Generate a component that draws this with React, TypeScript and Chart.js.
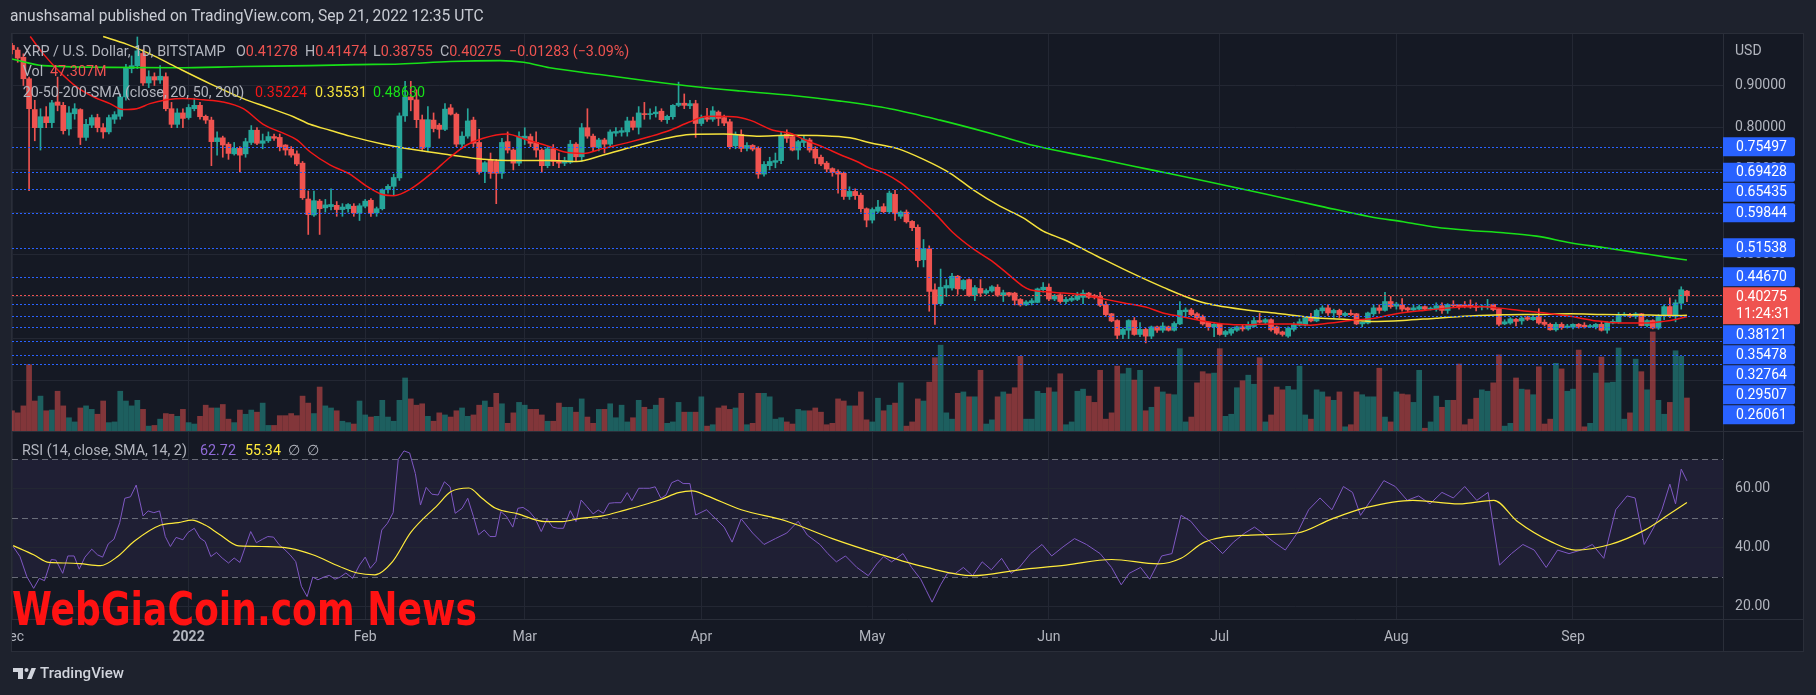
import React, { useEffect, useRef } from "react";
import { Chart, registerables } from "chart.js";

Chart.register(...registerables);

const W = 1816;
const H = 695;
const FONT = 'Roboto, "Noto Sans", "DejaVu Sans", sans-serif';

// ---------------- data (day index 0 = 1 Dec 2021, 294 = 21 Sep 2022) ----------------
// [open, high, low, close]
const candles: [number, number, number, number][] = [
  [0.995,1.000,0.975,0.985],[0.984,0.990,0.955,0.965],[0.967,0.975,0.900,0.916],[0.916,0.920,0.651,0.845],[0.843,0.865,0.769,0.800],
  [0.800,0.845,0.747,0.826],[0.826,0.850,0.800,0.812],[0.812,0.865,0.800,0.859],[0.861,0.920,0.840,0.853],[0.853,0.860,0.785,0.793],
  [0.797,0.850,0.782,0.835],[0.833,0.857,0.820,0.845],[0.843,0.845,0.760,0.777],[0.777,0.820,0.770,0.808],[0.806,0.830,0.800,0.824],
  [0.824,0.832,0.790,0.800],[0.800,0.810,0.775,0.790],[0.790,0.830,0.785,0.824],[0.820,0.838,0.810,0.831],[0.827,0.880,0.820,0.873],
  [0.873,0.950,0.865,0.942],[0.940,0.970,0.930,0.947],[0.947,1.015,0.940,0.982],[0.976,0.985,0.900,0.906],[0.906,0.935,0.895,0.921],
  [0.921,0.930,0.900,0.913],[0.913,0.947,0.905,0.922],[0.921,0.930,0.840,0.845],[0.845,0.860,0.800,0.808],[0.808,0.845,0.800,0.835],
  [0.835,0.845,0.800,0.822],[0.824,0.855,0.820,0.848],[0.845,0.870,0.840,0.853],[0.853,0.860,0.820,0.826],[0.827,0.830,0.810,0.818],
  [0.818,0.825,0.710,0.767],[0.767,0.790,0.735,0.776],[0.776,0.780,0.730,0.759],[0.761,0.765,0.725,0.739],[0.738,0.765,0.735,0.751],
  [0.751,0.755,0.695,0.735],[0.738,0.775,0.730,0.767],[0.765,0.805,0.760,0.794],[0.794,0.800,0.760,0.763],[0.763,0.785,0.750,0.769],
  [0.769,0.790,0.765,0.779],[0.779,0.785,0.770,0.775],[0.777,0.785,0.745,0.755],[0.759,0.760,0.735,0.747],[0.749,0.755,0.730,0.735],
  [0.738,0.745,0.710,0.714],[0.716,0.720,0.630,0.634],[0.631,0.650,0.547,0.594],[0.593,0.650,0.590,0.627],[0.626,0.630,0.547,0.608],
  [0.610,0.630,0.600,0.617],[0.613,0.655,0.605,0.618],[0.616,0.625,0.590,0.606],[0.606,0.620,0.590,0.612],[0.608,0.620,0.600,0.618],
  [0.614,0.620,0.590,0.598],[0.598,0.620,0.580,0.615],[0.614,0.630,0.610,0.626],[0.628,0.632,0.590,0.598],[0.598,0.612,0.590,0.608],
  [0.608,0.655,0.605,0.653],[0.653,0.665,0.645,0.661],[0.661,0.690,0.640,0.682],[0.681,0.835,0.675,0.828],[0.828,0.910,0.815,0.873],
  [0.873,0.910,0.840,0.866],[0.866,0.890,0.800,0.819],[0.819,0.830,0.745,0.751],[0.754,0.850,0.745,0.819],[0.818,0.835,0.790,0.798],
  [0.806,0.810,0.775,0.796],[0.796,0.857,0.793,0.844],[0.847,0.855,0.830,0.832],[0.832,0.835,0.755,0.761],[0.761,0.790,0.755,0.780],
  [0.780,0.845,0.775,0.816],[0.818,0.825,0.755,0.763],[0.765,0.796,0.690,0.696],[0.696,0.720,0.670,0.717],[0.724,0.740,0.680,0.692],
  [0.720,0.725,0.620,0.692],[0.692,0.775,0.680,0.765],[0.767,0.790,0.740,0.747],[0.747,0.750,0.700,0.716],[0.716,0.790,0.710,0.779],
  [0.775,0.800,0.760,0.780],[0.779,0.785,0.755,0.763],[0.765,0.790,0.730,0.747],[0.747,0.750,0.695,0.710],[0.710,0.755,0.705,0.750],
  [0.750,0.760,0.710,0.720],[0.722,0.740,0.705,0.716],[0.716,0.730,0.710,0.722],[0.718,0.770,0.715,0.761],[0.761,0.765,0.720,0.731],
  [0.731,0.810,0.720,0.800],[0.800,0.845,0.775,0.780],[0.780,0.785,0.745,0.754],[0.754,0.775,0.745,0.771],[0.771,0.775,0.740,0.761],
  [0.761,0.795,0.755,0.790],[0.787,0.800,0.780,0.791],[0.789,0.800,0.780,0.793],[0.790,0.825,0.780,0.816],[0.816,0.825,0.795,0.801],
  [0.801,0.850,0.785,0.835],[0.833,0.860,0.820,0.831],[0.831,0.845,0.820,0.833],[0.833,0.850,0.825,0.837],[0.839,0.845,0.815,0.819],
  [0.819,0.830,0.810,0.827],[0.826,0.855,0.820,0.853],[0.853,0.908,0.850,0.858],[0.858,0.880,0.845,0.853],[0.852,0.865,0.845,0.857],
  [0.857,0.865,0.777,0.810],[0.810,0.830,0.805,0.823],[0.824,0.846,0.815,0.820],[0.820,0.850,0.815,0.840],[0.837,0.840,0.805,0.822],
  [0.824,0.830,0.805,0.811],[0.814,0.820,0.750,0.755],[0.757,0.790,0.750,0.784],[0.784,0.795,0.743,0.751],[0.751,0.765,0.745,0.758],
  [0.758,0.760,0.745,0.749],[0.751,0.755,0.680,0.690],[0.690,0.720,0.685,0.713],[0.710,0.730,0.700,0.720],[0.718,0.740,0.705,0.722],
  [0.722,0.790,0.715,0.781],[0.785,0.795,0.765,0.775],[0.779,0.785,0.745,0.747],[0.747,0.770,0.725,0.767],[0.765,0.780,0.755,0.773],
  [0.771,0.775,0.742,0.747],[0.749,0.755,0.715,0.728],[0.730,0.735,0.710,0.714],[0.716,0.720,0.695,0.702],[0.703,0.705,0.685,0.694],
  [0.696,0.700,0.645,0.690],[0.692,0.695,0.630,0.637],[0.637,0.660,0.630,0.649],[0.649,0.655,0.630,0.639],[0.640,0.645,0.600,0.608],
  [0.608,0.610,0.565,0.581],[0.581,0.610,0.574,0.606],[0.602,0.628,0.598,0.612],[0.613,0.620,0.598,0.601],[0.601,0.650,0.597,0.645],
  [0.642,0.652,0.580,0.596],[0.590,0.603,0.585,0.600],[0.600,0.605,0.574,0.577],[0.578,0.580,0.556,0.563],[0.564,0.570,0.470,0.485],
  [0.487,0.535,0.470,0.513],[0.513,0.520,0.365,0.412],[0.416,0.430,0.334,0.383],[0.383,0.465,0.378,0.422],[0.420,0.440,0.400,0.426],
  [0.420,0.455,0.415,0.448],[0.448,0.450,0.405,0.418],[0.418,0.440,0.415,0.438],[0.440,0.442,0.400,0.402],[0.404,0.426,0.390,0.421],
  [0.419,0.440,0.400,0.408],[0.408,0.418,0.405,0.414],[0.413,0.426,0.410,0.423],[0.422,0.428,0.400,0.403],[0.403,0.415,0.388,0.409],
  [0.409,0.410,0.400,0.403],[0.408,0.410,0.380,0.391],[0.393,0.395,0.377,0.380],[0.380,0.390,0.378,0.387],[0.385,0.395,0.380,0.390],
  [0.386,0.420,0.385,0.418],[0.416,0.433,0.410,0.422],[0.422,0.430,0.390,0.394],[0.394,0.405,0.390,0.402],[0.404,0.408,0.384,0.388],
  [0.388,0.398,0.383,0.393],[0.391,0.400,0.388,0.396],[0.393,0.410,0.390,0.402],[0.398,0.415,0.383,0.408],[0.408,0.410,0.395,0.398],
  [0.402,0.405,0.394,0.398],[0.400,0.410,0.376,0.379],[0.381,0.388,0.353,0.357],[0.359,0.360,0.340,0.342],[0.343,0.345,0.300,0.308],
  [0.310,0.325,0.300,0.322],[0.320,0.345,0.300,0.343],[0.343,0.350,0.308,0.310],[0.310,0.338,0.305,0.322],[0.322,0.325,0.290,0.306],
  [0.306,0.330,0.300,0.328],[0.328,0.330,0.315,0.320],[0.320,0.338,0.315,0.330],[0.328,0.330,0.318,0.320],[0.320,0.340,0.318,0.336],
  [0.335,0.388,0.333,0.367],[0.364,0.373,0.352,0.368],[0.368,0.372,0.354,0.357],[0.359,0.362,0.345,0.349],[0.353,0.356,0.332,0.335],
  [0.339,0.340,0.320,0.328],[0.328,0.336,0.305,0.334],[0.334,0.336,0.308,0.310],[0.310,0.320,0.305,0.317],[0.313,0.326,0.308,0.323],
  [0.320,0.330,0.317,0.328],[0.328,0.334,0.318,0.323],[0.323,0.340,0.320,0.333],[0.329,0.350,0.327,0.343],[0.343,0.360,0.337,0.339],
  [0.339,0.348,0.335,0.345],[0.345,0.347,0.318,0.321],[0.328,0.330,0.310,0.313],[0.316,0.318,0.306,0.310],[0.306,0.328,0.303,0.325],
  [0.322,0.338,0.318,0.333],[0.332,0.347,0.330,0.340],[0.332,0.352,0.330,0.349],[0.349,0.360,0.340,0.342],[0.342,0.370,0.340,0.367],
  [0.366,0.378,0.360,0.373],[0.373,0.380,0.355,0.361],[0.361,0.370,0.350,0.367],[0.367,0.370,0.350,0.357],[0.355,0.363,0.352,0.360],
  [0.360,0.368,0.355,0.357],[0.359,0.360,0.333,0.335],[0.335,0.340,0.328,0.339],[0.337,0.363,0.335,0.361],[0.359,0.380,0.355,0.373],
  [0.373,0.380,0.360,0.367],[0.367,0.410,0.365,0.388],[0.388,0.400,0.372,0.376],[0.377,0.386,0.370,0.382],[0.380,0.395,0.365,0.370],
  [0.373,0.375,0.364,0.368],[0.368,0.380,0.365,0.373],[0.370,0.380,0.367,0.376],[0.376,0.378,0.368,0.370],[0.370,0.375,0.368,0.372],
  [0.370,0.385,0.365,0.378],[0.378,0.385,0.360,0.367],[0.367,0.383,0.360,0.381],[0.380,0.390,0.375,0.378],[0.380,0.380,0.370,0.376],
  [0.380,0.388,0.373,0.376],[0.379,0.392,0.372,0.375],[0.377,0.385,0.366,0.374],[0.375,0.380,0.368,0.377],[0.375,0.393,0.370,0.377],
  [0.381,0.382,0.366,0.369],[0.371,0.372,0.330,0.334],[0.335,0.345,0.333,0.340],[0.337,0.350,0.334,0.347],[0.346,0.348,0.330,0.341],
  [0.342,0.352,0.334,0.349],[0.350,0.353,0.343,0.346],[0.345,0.355,0.343,0.351],[0.351,0.371,0.334,0.337],[0.339,0.345,0.330,0.334],
  [0.334,0.337,0.320,0.321],[0.321,0.338,0.318,0.334],[0.334,0.338,0.322,0.326],[0.327,0.334,0.325,0.330],[0.327,0.335,0.323,0.334],
  [0.334,0.336,0.325,0.329],[0.332,0.338,0.325,0.328],[0.328,0.334,0.326,0.331],[0.328,0.336,0.323,0.334],[0.334,0.341,0.318,0.320],
  [0.320,0.340,0.313,0.338],[0.337,0.345,0.335,0.341],[0.339,0.362,0.336,0.357],[0.355,0.362,0.353,0.358],[0.357,0.360,0.350,0.353],
  [0.353,0.362,0.348,0.359],[0.359,0.360,0.330,0.331],[0.331,0.345,0.328,0.343],[0.343,0.345,0.323,0.325],[0.325,0.357,0.322,0.355],
  [0.355,0.380,0.345,0.376],[0.376,0.397,0.350,0.355],[0.354,0.392,0.340,0.385],[0.384,0.423,0.370,0.416],[0.41278,0.41474,0.38755,0.40275],
];

// volume, millions
const volumesM: number[] = [
  29,26,36,95,43,50,29,30,57,36, 19,13,33,36,31,24,43,12,13,57, 43,36,44,31,7,8,17,25,24,21,
  31,12,10,21,37,33,33,38,17,12, 30,24,30,27,40,8,8,22,22,25, 22,50,40,25,63,36,33,29,14,12,
  10,43,23,20,21,44,20,14,44,76, 46,37,39,21,14,26,23,20,29,33, 21,23,37,43,34,54,39,11,26,41,
  37,31,31,23,14,14,40,34,34,27, 46,20,11,31,31,39,19,37,13,19, 44,34,31,37,47,11,13,41,27,27,
  27,49,7,9,33,36,31,33,54,9, 11,54,54,49,17,19,13,10,31,29, 29,33,27,9,11,46,43,36,36,56,
  16,13,47,29,37,40,69,7,13,46, 43,70,105,123,26,17,54,56,49,49, 87,10,16,49,56,53,62,107,17,17,
  57,54,62,56,82,9,13,57,60,50, 41,87,17,26,93,82,90,73,87,29, 34,63,56,53,52,118,13,20,69,85,
  82,83,118,21,24,62,72,80,67,105, 13,23,63,59,64,59,93,23,17,59, 56,49,44,56,6,9,56,52,49,49,
  90,20,13,56,53,52,41,87,4,13, 50,34,44,44,96,9,17,47,59,57, 69,109,7,11,76,60,59,52,92,10,
  17,97,89,57,60,116,6,11,83,106, 69,70,119,17,26,103,85,59,142,44, 24,41,115,107,47.3,
];

// moving averages: [day index, price]
const sma20: [number, number][] = [
  [3.2,1.016],[5.5,0.975],[8.4,0.932],[11.4,0.896],[14.3,0.873],[17.2,0.857],[19.5,0.843],[21.9,0.845],[24.2,0.857],[27.2,0.866],
  [30,0.869],[33.6,0.866],[37,0.861],[40.6,0.845],[44.1,0.808],[47.6,0.787],[50,0.771],[52.3,0.743],[55.8,0.712],[59.3,0.69],
  [62.3,0.661],[65.2,0.641],[67,0.639],[70,0.655],[74,0.696],[76.9,0.73],[79.8,0.759],[82.7,0.775],[86.8,0.785],[90.4,0.771],
  [94.4,0.755],[96.8,0.743],[100.3,0.739],[103.8,0.751],[107.9,0.764],[112,0.779],[115.5,0.794],[119,0.814],[122,0.827],[126.6,0.826],
  [129.5,0.818],[133.6,0.794],[136.6,0.787],[139.5,0.769],[142.4,0.754],[145.4,0.736],[148.3,0.72],[150.3,0.706],[153,0.693],[156,0.669],
  [160,0.622],[162.4,0.591],[165.2,0.551],[168.8,0.512],[172.3,0.481],[175.2,0.449],[177.5,0.424],[178.7,0.416],[181.6,0.411],[184.6,0.408],
  [188,0.404],[191,0.396],[195,0.385],[199,0.375],[202,0.361],[205,0.353],[209,0.342],[212.7,0.335],[216.7,0.333],[220.8,0.335],
  [224.9,0.335],[227.9,0.332],[231.4,0.337],[234.9,0.343],[238.4,0.347],[243,0.359],[247.8,0.367],[252.4,0.373],[257.1,0.376],[260.6,0.373],
  [264.7,0.367],[269.4,0.3605],[273.5,0.353],[278.2,0.342],[282.3,0.337],[286.4,0.337],[289.9,0.341],[292.2,0.346],[294,0.3522],
];
const sma50: [number, number][] = [
  [16,1.016],[20.1,0.998],[24.2,0.975],[28.9,0.943],[34.8,0.904],[40.6,0.869],[44.7,0.849],[49.4,0.826],[52.3,0.808],[55.8,0.794],
  [59.3,0.78],[65.2,0.761],[71,0.747],[76.9,0.7355],[82.7,0.725],[88.6,0.722],[94.4,0.722],[99.1,0.72],[103.8,0.7355],[109,0.755],
  [114.9,0.775],[119,0.784],[124.9,0.785],[130.7,0.78],[136.6,0.782],[142.4,0.781],[147.1,0.776],[150.6,0.7645],[155.3,0.751],[160,0.725],
  [164.7,0.692],[168.8,0.652],[173.4,0.614],[177.5,0.5865],[181,0.555],[184.6,0.535],[190.4,0.496],[196.3,0.457],[202.1,0.4216],[208,0.39],
  [211.5,0.3785],[216.7,0.368],[222.6,0.359],[228.5,0.3495],[234.3,0.3456],[238.4,0.341],[244.2,0.3433],[250,0.3487],[255.9,0.3535],[261.8,0.3566],
  [267.6,0.3574],[273.5,0.359],[279.3,0.3574],[285.2,0.3566],[291,0.355],[294,0.3553],
];
const sma200: [number, number][] = [
  [0,0.963],[5.5,0.947],[17.2,0.943],[28.9,0.942],[40.6,0.945],[52.3,0.947],[60.2,0.9495],[68.1,0.951],[76.9,0.957],[85.7,0.959],
  [89.8,0.955],[94.4,0.942],[103.2,0.926],[112,0.91],[120,0.897],[127.8,0.887],[136.6,0.877],[145.4,0.863],[154.1,0.845],[162.9,0.818],
  [171.7,0.787],[179.6,0.757],[190,0.728],[200,0.7],[210,0.672],[220,0.643],[230,0.613],[238.4,0.589],[244.2,0.577],[250,0.564],
  [255.9,0.5565],[261.8,0.551],[267.6,0.543],[273.5,0.5275],[279.3,0.516],[285.2,0.504],[291,0.492],[294,0.4863],
];

// RSI(14) and its SMA(14): [day index, value]
const rsi14: [number, number][] = [
  [0.2,40.4],[1.4,37],[2.6,30.2],[3.8,26.2],[4.8,29.6],[5.7,28.8],[6.9,36],[7.7,35.8],[8.9,31.3],[9.8,37.2],[10.9,37.2],[11.8,32.7],
  [12.8,36.8],[14,39.5],[15,37.6],[15.9,36.8],[16.9,41.3],[17.9,42.9],[18.9,48.5],[19.8,56.8],[20.8,57.3],[21.8,61.3],[23,50.8],[23.9,52.5],
  [24.9,51.9],[25.9,52.5],[26.9,43.8],[27.8,40.4],[28.8,43.5],[30,42.7],[30.9,45.2],[32,46.6],[33,43.3],[33.9,42.1],[34.9,37],[35.9,38.4],
  [36.9,36.5],[38,34.8],[39,36.5],[40,35],[41,40.6],[41.9,45.5],[42.9,41.7],[44,42.9],[44.9,43.8],[45.9,43.6],[46.9,41],[47.9,39.3],
  [48.8,37.6],[49.8,35.3],[50.8,26.9],[51.8,23.4],[52.8,30],[53.7,29.1],[54.7,30],[55.7,30.6],[56.7,29.3],[57.6,30],[58.6,31.4],[59.8,29.6],
  [61,34.1],[62,36.8],[62.9,33],[63.9,35.3],[64.9,46],[65.9,48.3],[66.9,51.9],[67.8,70],[68.8,72.9],[69.8,72.2],[70.8,65.2],[71.7,54.5],
  [72.7,60.5],[73.7,58.2],[74.8,57.9],[75.9,62.4],[76.9,60.7],[77.8,51.7],[79,53.4],[80,56.8],[81,50.6],[81.9,44.4],[82.9,46],[83.9,43.8],
  [84.9,43.8],[85.8,52.3],[86.8,50.6],[87.9,47],[88.8,53.4],[89.7,53.7],[90.8,52.3],[91.8,50],[92.9,45.5],[93.9,49.7],[94.9,47],[95.8,46.6],
  [96.8,46.6],[98,52.6],[99,48.9],[99.9,56.2],[100.9,54],[102,51.5],[102.9,52.8],[103.8,51.7],[104.8,55.1],[105.8,55.3],[106.9,55.3],[108,58.7],
  [108.8,56],[110,60.2],[110.9,60.2],[111.9,60.2],[112.9,60.7],[113.9,56.8],[114.8,57.9],[115.8,62.1],[116.9,63],[117.8,61.8],[119,61.8],[120,51.1],
  [121.9,52.9],[125,47],[126.4,41.9],[128,49.8],[130,45],[132,41.1],[134,43.1],[136,45],[138,49],[139.6,44.3],[141.8,41.1],[143.2,38],
  [144.7,35.2],[146.3,37.2],[148.3,33.3],[150.3,30.5],[151.8,34.5],[153,37],[154.4,35.2],[156.4,38],[157.9,33.3],[159.5,29.3],[160.5,25.4],[161.5,21.5],
  [163,27.4],[164.2,31.3],[165.6,31.3],[167,33.3],[168.6,30.5],[170.3,35.2],[171.9,32.5],[173.7,36.4],[175.4,31.3],[176.8,33.3],[178.8,38],[180.8,41.1],
  [182.5,37.2],[184.5,40.3],[186.5,43.1],[188.6,41.1],[191,38],[193,33.3],[194.7,27.4],[196.1,31.3],[198.1,33.3],[199.7,29.3],[201.8,37.2],[203.6,38],
  [205.2,51],[206.9,49],[208.9,44.3],[210.9,41.1],[212.5,38],[214.4,41.9],[216.4,45],[218.1,47],[219.5,45],[221.5,41.9],[223.5,39.2],[225.6,45],
  [227.6,52.9],[229.6,56.9],[231.7,52.9],[233.7,60.8],[235.3,58.8],[236.7,51],[238.8,56.9],[240.8,62.8],[242.8,60.8],[244.9,56.1],[246.9,57.6],[248.9,54.9],
  [251,58.8],[253,56.9],[255,60.8],[257.1,56.1],[259.1,58.8],[261.1,34.1],[263.2,38],[265.2,41.1],[267.2,39.2],[269.3,33.3],[271.3,39.2],[273.3,38],
  [275.4,39.2],[277.4,41.1],[279.4,36.4],[281.5,52.9],[283.5,57.6],[284.9,56.9],[286.5,41.1],[288.2,47],[289.6,52.9],[291,61.6],[292,54.9],[293,66.7],[294,62.72],
];
const rsiSma: [number, number][] = [
  [0.2,40.7],[3.8,37.6],[6.5,35],[9.6,34.8],[11.9,34.6],[15.5,33.9],[18.6,37.1],[21.4,42.1],[26.1,47.7],[29.2,48.5],[31.6,49.4],[33.9,47.7],
  [36.3,44.7],[39.8,40.6],[44.9,40.4],[48.8,39.8],[52.8,37.6],[57.5,33.6],[60.6,31.4],[63.7,30.8],[66.8,35.3],[70,45.2],[74.7,54.5],[77,59],
  [80.2,60.3],[82.5,56.8],[84.9,53.4],[88.8,51.5],[93.5,48.9],[96.6,48.9],[99.8,50],[103.7,50.8],[107.6,52.8],[110.8,54.5],[113.9,56.4],[117,58.7],
  [119.4,59.3],[122,57.6],[128,52.9],[136,49],[144,43.1],[152,38],[160.5,33.3],[168.6,30.5],[176.8,32.5],[185,34.1],[193,36],[201.2,34.5],
  [205.2,36.4],[209.3,41.9],[217.4,44.3],[225.6,45],[231.7,49.8],[237.8,53.7],[245.9,56.1],[254,54.9],[260.1,56.1],[264.2,49],[270.3,41.9],[274.4,39.2],
  [280.5,41.1],[286.5,45.9],[290.6,51],[294,55.34],
];

const monthTickIdx = [0, 31, 62, 90, 121, 151, 182, 212, 243, 274];
const monthTickLabels = ["Dec", "2022", "Feb", "Mar", "Apr", "May", "Jun", "Jul", "Aug", "Sep"];
const priceTicks = [0.2, 0.3, 0.4, 0.5, 0.6, 0.7, 0.8, 0.9];
const rsiTicks = [20, 40, 60];
const rsiLevels = [70, 50, 30];
// user-drawn horizontal levels (the last one has no visible price label)
const priceLevels = [0.75497, 0.69428, 0.65435, 0.59844, 0.51538, 0.4467, 0.38121, 0.35478, 0.32764, 0.29507, 0.26061, 0.239];
const labelledLevels = [0.75497, 0.69428, 0.65435, 0.59844, 0.51538, 0.4467, 0.38121, 0.35478, 0.32764, 0.29507, 0.26061];
const lastClose = 0.40275;
const countdown = "11:24:31";

// ---------------- styling ----------------
const OUTER_BG = "#1e222d";
const PANE_BG = "#151924";
const GRID = "#232733";
const BORDER = "#2a2e39";
const TEXT = "#b2b5be";
const UP = "#26a69a";
const DOWN = "#ef5350";
const UP_VOL = "rgba(38,166,154,0.5)";
const DOWN_VOL = "rgba(239,83,80,0.5)";
const BLUE = "#2962ff";
const SMA20_C = "#f21818";
const SMA50_C = "#f5e23c";
const SMA200_C = "#18e018";
const RSI_C = "#7e57c2";
const RSI_SMA_C = "#ffeb3b";

const FR = { left: 11, top: 33, right: 1804, bottom: 652 };
const AXIS_W = 81;

function fitSize(ctx: CanvasRenderingContext2D, text: string, weight: string, family: string, target: number) {
  ctx.font = `${weight} 20px ${family}`;
  return (20 * target) / ctx.measureText(text).width;
}

function seg(ctx: CanvasRenderingContext2D, s: string, x: number, y: number, color: string) {
  ctx.fillStyle = color;
  ctx.fillText(s, x, y);
  return x + ctx.measureText(s).width;
}

const decor = {
  id: "decor",
  beforeDraw(chart: any) {
    const { ctx, chartArea: ca } = chart;
    ctx.save();
    ctx.fillStyle = OUTER_BG;
    ctx.fillRect(0, 0, W, H);
    ctx.fillStyle = PANE_BG;
    ctx.fillRect(FR.left, FR.top, FR.right - FR.left, FR.bottom - FR.top);
    const yR = chart.scales.yRsi;
    const t = yR.getPixelForValue(70);
    const b = yR.getPixelForValue(30);
    ctx.fillStyle = "rgba(126,87,194,0.1)";
    ctx.fillRect(ca.left, t, ca.right - ca.left, b - t);
    ctx.restore();
  },
  beforeDatasetsDraw(chart: any) {
    const { ctx, chartArea: ca } = chart;
    const yR = chart.scales.yRsi;
    ctx.save();
    ctx.strokeStyle = "rgba(120,123,134,0.85)";
    ctx.lineWidth = 1;
    ctx.setLineDash([6, 4]);
    for (const v of rsiLevels) {
      const y = Math.round(yR.getPixelForValue(v)) + 0.5;
      ctx.beginPath();
      ctx.moveTo(ca.left, y);
      ctx.lineTo(ca.right, y);
      ctx.stroke();
    }
    ctx.restore();
  },
  afterDatasetsDraw(chart: any) {
    const { ctx, chartArea: ca } = chart;
    const yS = chart.scales.y;
    ctx.save();
    ctx.lineWidth = 1;
    ctx.setLineDash([2, 2]);
    ctx.strokeStyle = BLUE;
    for (const p of priceLevels) {
      const y = Math.round(yS.getPixelForValue(p)) + 0.5;
      ctx.beginPath();
      ctx.moveTo(ca.left, y);
      ctx.lineTo(ca.right, y);
      ctx.stroke();
    }
    ctx.strokeStyle = DOWN;
    const yl = Math.round(yS.getPixelForValue(lastClose)) + 0.5;
    ctx.beginPath();
    ctx.moveTo(ca.left, yl);
    ctx.lineTo(ca.right, yl);
    ctx.stroke();
    ctx.restore();
  },
  afterDraw(chart: any) {
    const { ctx, chartArea: ca } = chart;
    const yS = chart.scales.y;
    ctx.save();
    // clip time-axis label overflow on the left
    ctx.fillStyle = OUTER_BG;
    ctx.fillRect(0, 600, FR.left, 60);
    // frame and separators
    ctx.strokeStyle = BORDER;
    ctx.lineWidth = 1;
    ctx.strokeRect(FR.left + 0.5, FR.top + 0.5, FR.right - FR.left - 1, FR.bottom - FR.top - 1);
    const split = Math.round(chart.scales.y.bottom) + 0.5;
    const tAxis = Math.round(ca.bottom) + 0.5;
    ctx.beginPath();
    ctx.moveTo(FR.left, split); ctx.lineTo(FR.right, split);
    ctx.moveTo(FR.left, tAxis); ctx.lineTo(FR.right, tAxis);
    ctx.moveTo(Math.round(ca.right) + 0.5, FR.top); ctx.lineTo(Math.round(ca.right) + 0.5, FR.bottom);
    ctx.stroke();

    // header
    ctx.textBaseline = "middle";
    const header = "anushsamal published on TradingView.com, Sep 21, 2022 12:35 UTC";
    const hs = fitSize(ctx, header, "normal", FONT, 474);
    ctx.font = `normal ${hs}px ${FONT}`;
    seg(ctx, header, 10, 17, "#c9ccd4");

    // main legend
    const ls = fitSize(ctx, "XRP / U.S. Dollar, 1D, BITSTAMP", "normal", FONT, 203);
    ctx.font = `normal ${ls}px ${FONT}`;
    seg(ctx, "XRP / U.S. Dollar, 1D, BITSTAMP", 22.7, 52, TEXT);
    let x = seg(ctx, "O", 236, 52, TEXT); seg(ctx, "0.41278", x, 52, DOWN);
    x = seg(ctx, "H", 305, 52, TEXT); seg(ctx, "0.41474", x, 52, DOWN);
    x = seg(ctx, "L", 373, 52, TEXT); seg(ctx, "0.38755", x, 52, DOWN);
    x = seg(ctx, "C", 440, 52, TEXT); seg(ctx, "0.40275", x, 52, DOWN);
    seg(ctx, "\u22120.01283 (\u22123.09%)", 509, 52, DOWN);
    seg(ctx, "Vol", 22.7, 72, TEXT);
    seg(ctx, "47.307M", 50, 72, DOWN);
    seg(ctx, "20-50-200-SMA (close, 20, 50, 200)", 22.7, 93, TEXT);
    seg(ctx, "0.35224", 255, 93, SMA20_C);
    seg(ctx, "0.35531", 315, 93, SMA50_C);
    seg(ctx, "0.48630", 373, 93, SMA200_C);

    // RSI legend
    seg(ctx, "RSI (14, close, SMA, 14, 2)", 22, 451, TEXT);
    seg(ctx, "62.72", 200, 451, "#8f6ad6");
    seg(ctx, "55.34", 245, 451, RSI_SMA_C);
    seg(ctx, "\u2205", 288, 451, TEXT);
    seg(ctx, "\u2205", 307, 451, TEXT);

    // USD label
    const as = fitSize(ctx, "0.90000", "normal", FONT, 51);
    ctx.font = `normal ${as}px ${FONT}`;
    seg(ctx, "USD", 1735, 51, TEXT);

    // price badges
    ctx.save();
    ctx.beginPath();
    ctx.rect(ca.right, yS.top, FR.right - ca.right, yS.bottom - yS.top);
    ctx.clip();
    const items = labelledLevels
      .map((p) => ({ p, lines: [p.toFixed(5)], color: BLUE, h: 19, w: 72 }))
      .concat([{ p: lastClose, lines: [lastClose.toFixed(5), countdown], color: DOWN, h: 37, w: 77 }])
      .map((it) => ({ ...it, y: yS.getPixelForValue(it.p) }))
      .sort((a, b) => a.y - b.y);
    let prevBottom = -1e9;
    for (const it of items) {
      const top = Math.max(it.y - it.h / 2, prevBottom + 1);
      ctx.fillStyle = it.color;
      ctx.beginPath();
      (ctx as any).roundRect ? (ctx as any).roundRect(ca.right, top, it.w, it.h, [0, 2, 2, 0]) : ctx.rect(ca.right, top, it.w, it.h);
      ctx.fill();
      ctx.fillStyle = "#ffffff";
      if (it.lines.length === 1) {
        ctx.fillText(it.lines[0], 1736, top + it.h / 2 + 0.5);
      } else {
        ctx.fillText(it.lines[0], 1736, top + 10);
        ctx.fillText(it.lines[1], 1736, top + 27.5);
      }
      prevBottom = top + it.h;
    }
    ctx.restore();

    // watermark
    const wm = "WebGiaCoin.com News";
    ctx.save();
    ctx.font = `bold 46px "DejaVu Sans Condensed", "DejaVu Sans", sans-serif`;
    const ww = ctx.measureText(wm).width;
    ctx.translate(12, 625);
    ctx.scale(465 / ww, 1);
    ctx.textBaseline = "alphabetic";
    ctx.fillStyle = "#fe1212";
    ctx.fillText(wm, 0, 0);
    ctx.restore();

    // TradingView footer logo
    ctx.fillStyle = "#d1d4dc";
    ctx.fillRect(13, 668, 10, 4);
    ctx.fillRect(18, 668, 5, 11);
    ctx.beginPath();
    ctx.arc(26.5, 670, 2, 0, Math.PI * 2);
    ctx.fill();
    ctx.beginPath();
    ctx.moveTo(27, 679); ctx.lineTo(31.5, 668); ctx.lineTo(36, 668); ctx.lineTo(31.5, 679);
    ctx.closePath();
    ctx.fill();
    const tvs = fitSize(ctx, "TradingView", "500", FONT, 84);
    ctx.font = `500 ${tvs}px ${FONT}`;
    ctx.textBaseline = "middle";
    seg(ctx, "TradingView", 40, 674, "#d1d4dc");
    ctx.restore();
  },
};

export default function App() {
  const ref = useRef<HTMLCanvasElement>(null);
  useEffect(() => {
    document.body.style.margin = "0";
    document.body.style.background = OUTER_BG;
    const mctx = document.createElement("canvas").getContext("2d")!;
    const axisSize = fitSize(mctx, "0.90000", "normal", FONT, 51);

    const isUp = candles.map((c) => c[3] >= c[0]);
    const candleColors = isUp.map((u) => (u ? UP : DOWN));
    const volColors = isUp.map((u) => (u ? UP_VOL : DOWN_VOL));
    const pts = (a: [number, number][]) => a.map(([x, y]) => ({ x, y }));
    const line = (data: [number, number][], color: string, yAxisID: string, width: number, smooth: boolean, order: number) => ({
      type: "line",
      data: pts(data),
      borderColor: color,
      borderWidth: width,
      pointRadius: 0,
      fill: false,
      yAxisID,
      xAxisID: "x",
      cubicInterpolationMode: smooth ? "monotone" : "default",
      tension: 0,
      order,
    });

    const chart = new Chart(ref.current!, {
      type: "bar",
      data: {
        datasets: [
          {
            type: "bar",
            label: "volume",
            data: volumesM.map((v, i) => ({ x: i, y: v })),
            backgroundColor: volColors,
            barThickness: 5,
            grouped: false,
            yAxisID: "yVol",
            xAxisID: "x",
            order: 6,
          },
          {
            type: "bar",
            label: "wicks",
            data: candles.map((c, i) => ({ x: i, y: [c[2], c[1]] })),
            backgroundColor: candleColors,
            barThickness: 1,
            grouped: false,
            yAxisID: "y",
            xAxisID: "x",
            order: 5,
          },
          {
            type: "bar",
            label: "bodies",
            data: candles.map((c, i) => ({ x: i, y: [c[0], c[3]] })),
            backgroundColor: candleColors,
            barThickness: 5,
            minBarLength: 1,
            grouped: false,
            yAxisID: "y",
            xAxisID: "x",
            order: 4,
          },
          line(sma200, SMA200_C, "y", 1.6, true, 3),
          line(sma50, SMA50_C, "y", 1.5, true, 2),
          line(sma20, SMA20_C, "y", 1.5, true, 1),
          line(rsi14, RSI_C, "yRsi", 1, false, 1),
          line(rsiSma, RSI_SMA_C, "yRsi", 1.2, true, 0),
        ] as any,
      },
      options: {
        responsive: false,
        animation: false,
        devicePixelRatio: 1,
        events: [],
        layout: { padding: { left: 12, top: 34, right: 12, bottom: 43 } },
        plugins: { legend: { display: false }, tooltip: { enabled: false } },
        scales: {
          x: {
            type: "linear",
            position: "bottom",
            min: 0,
            max: 300.33,
            offset: false,
            afterBuildTicks: (s: any) => {
              s.ticks = monthTickIdx.map((value) => ({ value }));
            },
            afterFit: (s: any) => {
              s.height = 33;
              s.paddingLeft = 0;
              s.paddingRight = 0;
            },
            grid: { color: GRID, drawTicks: false, offset: false },
            border: { display: false },
            ticks: {
              autoSkip: false,
              maxRotation: 0,
              minRotation: 0,
              padding: 10,
              color: TEXT,
              font: (c: any) => ({ family: FONT, size: axisSize, weight: c.tick && c.tick.value === 31 ? "bold" : "normal" }),
              callback: (v: any) => {
                const k = monthTickIdx.indexOf(Number(v));
                return k >= 0 ? monthTickLabels[k] : "";
              },
            },
          },
          y: {
            type: "linear",
            position: "right",
            stack: "pane",
            stackWeight: 397,
            min: 0.0812,
            max: 1.02206,
            afterBuildTicks: (s: any) => {
              s.ticks = priceTicks.map((value) => ({ value }));
            },
            afterFit: (s: any) => {
              s.width = AXIS_W;
            },
            grid: { color: GRID, drawTicks: false },
            border: { display: false },
            ticks: {
              color: TEXT,
              padding: 12,
              font: { family: FONT, size: axisSize },
              callback: (v: any) => Number(v).toFixed(5),
            },
          },
          yRsi: {
            type: "linear",
            position: "right",
            stack: "pane",
            stackWeight: 188,
            min: 15.78,
            max: 79.66,
            afterBuildTicks: (s: any) => {
              s.ticks = rsiTicks.map((value) => ({ value }));
            },
            afterFit: (s: any) => {
              s.width = AXIS_W;
            },
            grid: { color: GRID, drawTicks: false },
            border: { display: false },
            ticks: {
              color: TEXT,
              padding: 12,
              font: { family: FONT, size: axisSize },
              callback: (v: any) => Number(v).toFixed(2),
            },
          },
          yVol: {
            type: "linear",
            position: "left",
            display: false,
            min: -269.4,
            max: 568.9,
          },
        } as any,
      },
      plugins: [decor],
    } as any);
    return () => chart.destroy();
  }, []);

  return (
    <div style={{ position: "absolute", left: 0, top: 0, width: W, height: H, background: OUTER_BG }}>
      <canvas ref={ref} width={W} height={H} style={{ display: "block", width: W, height: H }} />
    </div>
  );
}
